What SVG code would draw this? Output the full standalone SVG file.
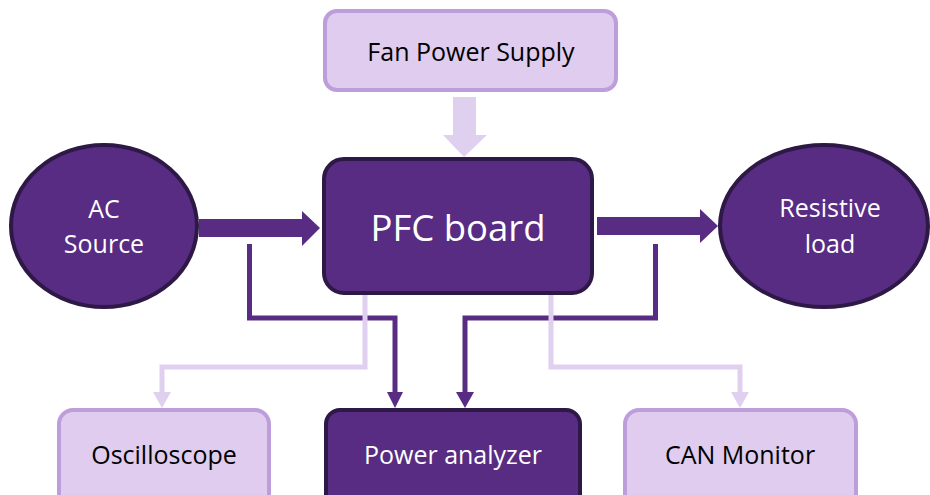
<svg xmlns="http://www.w3.org/2000/svg" width="930" height="495" viewBox="0 0 930 495">
  <style>
    .dark { fill: #582c83; stroke: #2d1846; stroke-width: 4; }
    .light { fill: #dfccee; stroke: #bd9edb; stroke-width: 4; }
    .txt { font-family: "Open Sans", "Liberation Sans", sans-serif; text-anchor: middle; font-size: 25px; }
    .wt { fill: #ffffff; }
    .bt { fill: #000000; }
    .wire-dark { fill: none; stroke: #582c83; stroke-width: 5; }
    .wire-light { fill: none; stroke: #e0d0f0; stroke-width: 5; }
    .head-dark { fill: #582c83; }
    .head-light { fill: #e0d0f0; }
  </style>

  <!-- connectors -->
  <g id="connectors">
    <!-- block arrows -->
    <polygon class="head-light" points="453,97 476,97 476,135 487,135 464,157 443,135 453,135"/>
    <polygon class="head-dark" points="199,219 302,219 302,211 320,228 302,246 302,237 199,237"/>
    <polygon class="head-dark" points="597,217 700,217 700,209 718,226 700,243 700,235 597,235"/>
    <!-- measurement lines to power analyzer -->
    <polyline class="wire-dark" points="249.5,244 249.5,318 395,318 395,393"/>
    <polygon class="head-dark" points="387,392 403,392 395,408"/>
    <polyline class="wire-dark" points="655.5,244 655.5,318 465,318 465,393"/>
    <polygon class="head-dark" points="456,392 474,392 465,408"/>
    <!-- signal lines to oscilloscope and CAN monitor -->
    <polyline class="wire-light" points="365,295 365,367 162,367 162,393"/>
    <polygon class="head-light" points="153,392 171,392 162,408"/>
    <polyline class="wire-light" points="551,295 551,367 740,367 740,393"/>
    <polygon class="head-light" points="731,392 749,392 740,408"/>
  </g>

  <g id="fan-power-supply">
    <rect class="light" x="325" y="11" width="291" height="79" rx="12"/>
    <text class="txt bt" x="471" y="61">Fan Power Supply</text>
  </g>

  <g id="pfc-board">
    <rect class="dark" x="324" y="159" width="268" height="134" rx="20"/>
    <text class="txt wt" x="458" y="241" style="font-size:36.5px">PFC board</text>
  </g>

  <g id="ac-source">
    <ellipse class="dark" cx="104" cy="226" rx="93" ry="81"/>
    <text class="txt wt" x="104" y="218">AC</text>
    <text class="txt wt" x="104" y="253">Source</text>
  </g>

  <g id="resistive-load">
    <ellipse class="dark" cx="824" cy="226" rx="104" ry="81"/>
    <text class="txt wt" x="830" y="217">Resistive</text>
    <text class="txt wt" x="830" y="253">load</text>
  </g>

  <g id="oscilloscope">
    <rect class="light" x="59" y="410" width="210" height="100" rx="14"/>
    <text class="txt bt" x="164" y="464">Oscilloscope</text>
  </g>

  <g id="power-analyzer">
    <rect class="dark" x="326" y="410" width="254" height="100" rx="14"/>
    <text class="txt wt" x="453" y="464">Power analyzer</text>
  </g>

  <g id="can-monitor">
    <rect class="light" x="625" y="410" width="231" height="100" rx="14"/>
    <text class="txt bt" x="740" y="464">CAN Monitor</text>
  </g>
</svg>
